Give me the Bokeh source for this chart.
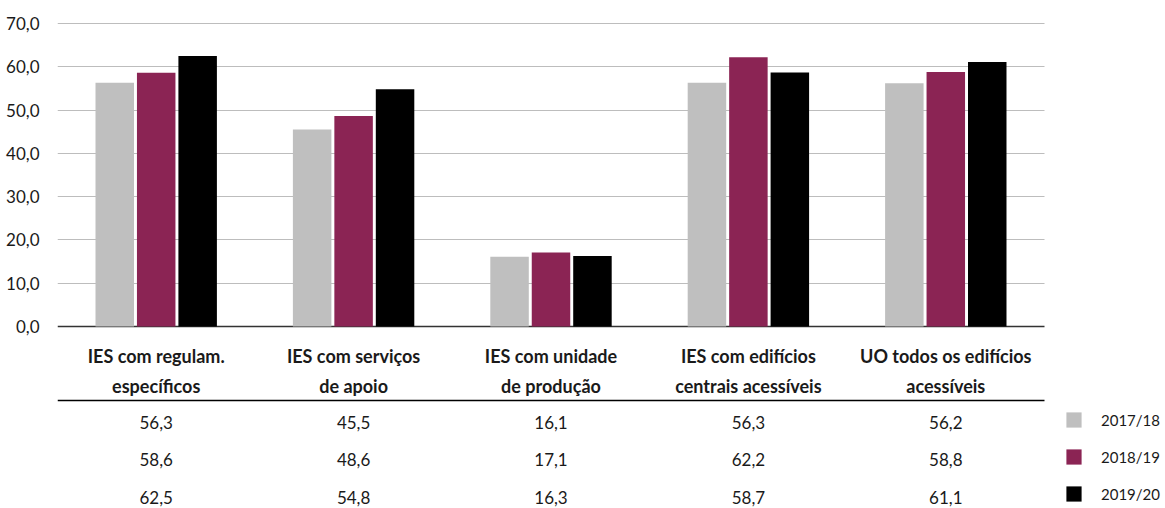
from bokeh.plotting import figure
from bokeh.models import (ColumnDataSource, Range1d, FixedTicker, Grid,
                          Legend, LegendItem)
from bokeh.transform import dodge
from bokeh.core.properties import value
from bokeh.embed import file_html
from bokeh.resources import INLINE

categories = [
    "IES com regulam.\nespecíficos",
    "IES com serviços\nde apoio",
    "IES com unidade\nde produção",
    "IES com edifícios\ncentrais acessíveis",
    "UO todos os edifícios\nacessíveis",
]
years = ["2017/18", "2018/19", "2019/20"]
v_2017_18 = [56.3, 45.5, 16.1, 56.3, 56.2]
v_2018_19 = [58.6, 48.6, 17.1, 62.2, 58.8]
v_2019_20 = [62.5, 54.8, 16.3, 58.7, 61.1]
y_ticks = [0, 10, 20, 30, 40, 50, 60, 70]
y_tick_labels = ["0,0", "10,0", "20,0", "30,0", "40,0", "50,0", "60,0", "70,0"]

colors = ["#bfbfbf", "#8b2454", "#000000"]
series = [v_2017_18, v_2018_19, v_2019_20]
offsets = [-0.21, 0.0, 0.21]
TEXT = "#1a1a1a"
FONT = "Lato"

# layout constants (pixels mapped through ranges)
LABEL_ROW = -1.3733     # category labels, in table-row units
TABLE_LINE = -0.5733    # table rule, in table-row units

idx = list(range(len(categories)))   # category slots along x
X_START, X_END = -0.5, len(categories) - 0.5 + 0.613   # extra room on the right for the legend
CAT_BOUNDS = (-0.5, len(categories) - 0.5)

src = ColumnDataSource(dict(idx=idx, cat=categories, s0=v_2017_18, s1=v_2018_19, s2=v_2019_20))

p = figure(x_range=Range1d(X_START, X_END), y_range=Range1d(-42.05, 75.31),
           width=1165, height=508, output_backend="svg", toolbar_location=None,
           min_border_left=57, min_border_right=0, min_border_top=0, min_border_bottom=0,
           x_axis_location=None)
p.extra_y_ranges = {"table": Range1d(2.2933, -11.253)}
p.outline_line_color = None
p.background_fill_color = "white"
p.xgrid.visible = False
p.ygrid.ticker = FixedTicker(ticks=y_ticks[1:])
p.ygrid.grid_line_color = "#bdbdbd"
p.ygrid.grid_line_width = 1
p.ygrid.cross_bounds = CAT_BOUNDS

p.yaxis.ticker = FixedTicker(ticks=y_ticks)
p.yaxis.major_label_overrides = dict(zip(y_ticks, y_tick_labels))
p.yaxis.axis_line_color = None
p.yaxis.major_tick_line_color = None
p.yaxis.minor_tick_line_color = None
p.yaxis.major_label_standoff = 12
p.yaxis.major_label_text_font = FONT
p.yaxis.major_label_text_font_size = "17px"
p.yaxis.major_label_text_color = TEXT

bars = []
for i in range(3):
    r = p.vbar(x=dodge("idx", offsets[i]), top="s%d" % i, width=0.195,
               source=src, fill_color=colors[i], line_color=None)
    bars.append(r)

# baseline at zero
p.add_layout(Grid(dimension=1, ticker=FixedTicker(ticks=[0]), cross_bounds=CAT_BOUNDS,
                  grid_line_color="#333333", grid_line_width=1.5))

# table rule
p.add_layout(Grid(dimension=1, y_range_name="table", ticker=FixedTicker(ticks=[TABLE_LINE]),
                  cross_bounds=CAT_BOUNDS, grid_line_color="black", grid_line_width=1.5))

# category labels
lsrc = ColumnDataSource(dict(idx=idx, cat=categories, row=[LABEL_ROW] * len(categories)))
p.text(x="idx", y="row", text="cat", source=lsrc, y_range_name="table",
       text_font=value(FONT), text_font_style="bold", text_font_size="18px",
       text_align="center", text_baseline="middle", text_color=TEXT, text_line_height=1.38)

# table values
rows, xs, labels = [], [], []
for r, vals in enumerate(series):
    for c, v in zip(idx, vals):
        xs.append(c)
        rows.append(r)
        labels.append(("%.1f" % v).replace(".", ","))
tsrc = ColumnDataSource(dict(idx=xs, row=rows, label=labels))
p.text(x="idx", y="row", text="label", source=tsrc, y_range_name="table",
       text_font=value(FONT), text_font_size="17px", text_align="center",
       text_baseline="middle", text_color=TEXT)

legend = Legend(items=[LegendItem(label=years[i], renderers=[bars[i]]) for i in range(3)],
                location=(1007, 5), padding=0, margin=0, border_line_color=None,
                background_fill_alpha=0, glyph_width=19, glyph_height=19, label_height=19,
                label_standoff=18, spacing=18, label_text_font=FONT,
                label_text_font_size="15px", label_text_color=TEXT)
p.add_layout(legend, "center")

open("out.html", "w").write(file_html(p, INLINE))
